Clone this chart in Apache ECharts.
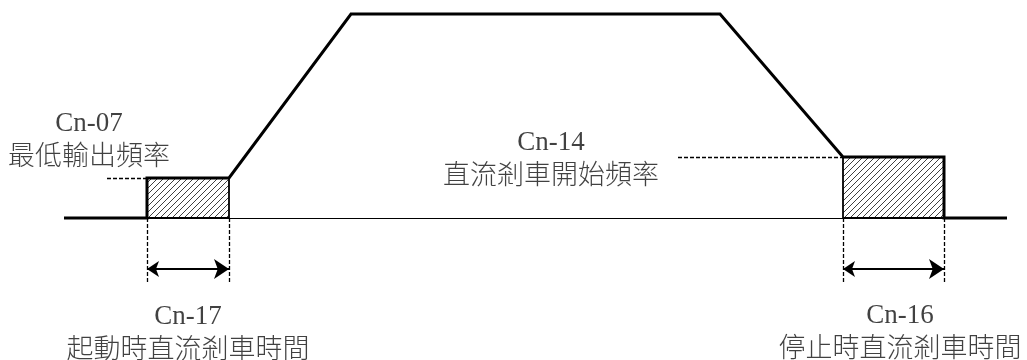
<!DOCTYPE html>
<html>
<head>
<meta charset="utf-8">
<script src="https://cdn.jsdelivr.net/npm/echarts@6/dist/echarts.min.js"></script>
<style>
  html, body { margin: 0; padding: 0; background: #fff; }
  #chart { width: 1027px; height: 360px; }
</style>
</head>
<body>
<div id="chart"></div>
<script>
// output frequency profile (time, freq), baseline = 0
const profileT = [64, 147, 147, 229, 351, 720, 843, 944, 944, 1007]
const profileF = [0, 0, 40, 40, 204, 204, 61, 61, 0, 0]

// DC brake zones: [start, end, level]
const brakeZones = [[147, 229, 40], [843, 944, 61]]

// thin time axis between the zones
const axisSpan = [229, 843]

// dashed level guides: [from, to, level]
const levelGuides = [[107, 147, 40], [678, 843, 61]]

// dashed drop lines at zone edges
const zoneEdges = [147, 229, 843, 944]
const edgeBottom = -64
const arrowLevel = -51

// annotations: [time, freq, code, name]
const notes = [
  [89, 79, 'Cn-07', '最低輸出頻率'],
  [551, 60, 'Cn-14', '直流剎車開始頻率'],
  [188, -114, 'Cn-17', '起動時直流剎車時間'],
  [900, -113, 'Cn-16', '停止時直流剎車時間']
]

function hatchCanvas() {
  const c = document.createElement('canvas')
  c.width = c.height = 6
  const g = c.getContext('2d')
  g.strokeStyle = '#000'
  g.lineWidth = 0.75
  g.beginPath()
  g.moveTo(0, 6); g.lineTo(6, 0)
  g.moveTo(-1, 1); g.lineTo(1, -1)
  g.moveTo(5, 7); g.lineTo(7, 5)
  g.stroke()
  return c
}

const hatch = hatchCanvas()
const chart = echarts.init(document.getElementById('chart'))

const dashed = { color: '#000', width: 1.3, type: [4, 2], opacity: 1 }

chart.setOption({
  animation: false,
  grid: { left: 0, right: 0, top: 0, bottom: 0 },
  xAxis: { type: 'value', min: 0, max: 1027, show: false },
  yAxis: { type: 'value', min: -142, max: 218, show: false },
  series: [
    {
      type: 'custom',
      z: 1,
      renderItem(params, api) {
        const p0 = api.coord([api.value(0), api.value(2)])
        const p1 = api.coord([api.value(1), 0])
        return {
          type: 'rect',
          shape: { x: p0[0], y: p0[1], width: p1[0] - p0[0], height: p1[1] - p0[1] },
          style: { fill: { image: hatch, repeat: 'repeat' }, stroke: '#000', lineWidth: 1.8 }
        }
      },
      data: brakeZones
    },
    {
      type: 'lines',
      coordinateSystem: 'cartesian2d',
      z: 2,
      lineStyle: { color: '#000', width: 1.2, opacity: 1 },
      data: [{ coords: [[axisSpan[0], 0], [axisSpan[1], 0]] }]
    },
    {
      type: 'lines',
      coordinateSystem: 'cartesian2d',
      z: 2,
      lineStyle: dashed,
      data: levelGuides.map(g => ({ coords: [[g[0], g[2]], [g[1], g[2]]] }))
        .concat(zoneEdges.map(t => ({ coords: [[t, 0], [t, edgeBottom]] })))
    },
    {
      type: 'lines',
      coordinateSystem: 'cartesian2d',
      z: 3,
      symbol: ['arrow', 'arrow'],
      symbolSize: [12, 15],
      lineStyle: { color: '#000', width: 2, opacity: 1 },
      itemStyle: { color: '#000', opacity: 1 },
      data: brakeZones.map(z => ({ coords: [[z[0], arrowLevel], [z[1], arrowLevel]] }))
    },
    {
      type: 'line',
      z: 4,
      symbol: 'none',
      lineStyle: { color: '#000', width: 3, join: 'miter' },
      data: profileT.map((t, i) => [t, profileF[i]])
    },
    {
      type: 'scatter',
      z: 5,
      symbolSize: 0,
      data: notes.map(n => [n[0], n[1], n[2], n[3]]),
      label: {
        show: true,
        position: 'inside',
        align: 'center',
        verticalAlign: 'middle',
        formatter: p => '{a|' + p.data[2] + '}\n{b|' + p.data[3] + '}',
        rich: {
          a: { fontFamily: '"Liberation Serif", "DejaVu Serif", serif', fontSize: 27, color: '#111', lineHeight: 31, align: 'center' },
          b: { fontFamily: '"Noto Sans CJK TC", sans-serif', fontSize: 27, fontWeight: 300, color: '#111', lineHeight: 31, align: 'center' }
        }
      }
    }
  ]
})
</script>
</body>
</html>
